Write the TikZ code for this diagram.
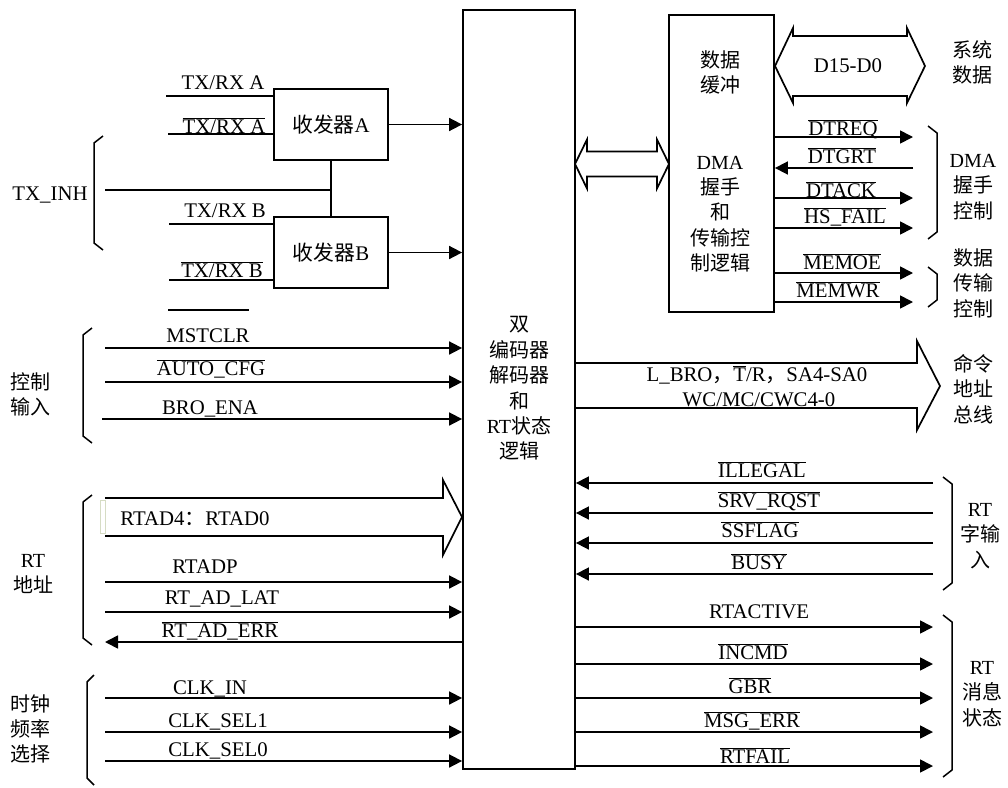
\documentclass[tikz,border=0pt]{standalone}
\usepackage{fontspec}
\setmainfont{Liberation Serif}
\newfontfamily\cjk{Noto Sans CJK SC}
\usetikzlibrary{arrows.meta}
\newcommand\olx[1]{$\overline{\mbox{#1}}$}
\begin{document}
\begin{tikzpicture}[x=1pt,y=-1pt,
  box/.style={draw,line width=1.8pt,inner sep=0pt,font=\fontsize{20.8}{25}\selectfont},
  wire/.style={line width=1.7pt},
  sig/.style={wire,-{Triangle[length=13pt,width=13pt]}},
  lbl/.style={inner sep=0pt,font=\fontsize{20.8}{25}\selectfont,anchor=base},
  zh/.style={inner sep=0pt,font=\fontsize{20}{25.4}\selectfont\cjk,align=center},
  brace/.style={line width=1.5pt,line join=round},
  bus/.style={line width=1.7pt,line join=miter}]
\useasboundingbox (0,0) rectangle (1008,787);

% ---------- blocks ----------
\node[box,minimum width=112pt,minimum height=759pt] (main) at (519,389.5) {};
\node[zh] (maintxt) at (519,388.5) {双\\编码器\\解码器\\和\\{\rmfamily RT}状态\\逻辑};
\node[box,minimum width=105pt,minimum height=297pt] (dma) at (721.5,163.5) {};
\node[zh] (dmatxt1) at (720,72.5) {数据\\缓冲};
\node[zh] (dmatxt2) at (720,214) {{\rmfamily DMA}\\握手\\和\\传输控\\制逻辑};
\node[box,minimum width=114pt,minimum height=71pt] (xa) at (331,124.5) {{\cjk 收发器}A};
\node[box,minimum width=114pt,minimum height=71pt] (xb) at (331,252.5) {{\cjk 收发器}B};

% ---------- transceiver wiring ----------
\coordinate (txaL) at (166,96);
\coordinate (txabL) at (168,134);
\coordinate (txbL) at (169,224);
\coordinate (txbbL) at (169,280);
\coordinate (inhL) at (105,190);
\draw[wire] (txaL) -- (txaL -| xa.west);
\draw[wire] (txabL) -- (txabL -| xa.west);
\draw[wire] (txbL) -- (txbL -| xb.west);
\draw[wire] (txbbL) -- (txbbL -| xb.west);
\draw[wire] (inhL) -- (inhL -| xa.south);
\draw[wire] (xa.south) -- (xb.north);
\draw[sig] (xa.east) -- (xa.east -| main.west);
\draw[sig] (xb.east) -- (xb.east -| main.west);
\node[lbl] (ltxa) at (223,89) {TX/RX A};
\node[lbl] (ltxab) at (224,133) {\olx{TX/RX A}};
\node[lbl] (ltxb) at (225,217) {TX/RX B};
\node[lbl] (ltxbb) at (222,277) {\olx{TX/RX B}};
\node[lbl] (linh) at (50,200) {TX\_INH};
\coordinate (st1) at (168,310);
\coordinate (st2) at (249,310);
\draw[line width=1.4pt] (st1) -- (st2);

% ---------- left inputs ----------
\coordinate (mstL) at (105,348);
\coordinate (autoL) at (105,382);
\coordinate (broL) at (102,419);
\coordinate (rtadpL) at (105,582);
\coordinate (latL) at (105,612);
\coordinate (errL) at (105,642);
\coordinate (clkL) at (105,698);
\coordinate (sel1L) at (105,732);
\coordinate (sel0L) at (105,761);
\draw[sig] (mstL) -- (mstL -| main.west);
\draw[sig] (autoL) -- (autoL -| main.west);
\draw[sig] (broL) -- (broL -| main.west);
\draw[sig] (rtadpL) -- (rtadpL -| main.west);
\draw[sig] (latL) -- (latL -| main.west);
\draw[sig] (errL -| main.west) -- (errL);
\draw[sig] (clkL) -- (clkL -| main.west);
\draw[sig] (sel1L) -- (sel1L -| main.west);
\draw[sig] (sel0L) -- (sel0L -| main.west);
\node[lbl] (lmst) at (208,342) {MSTCLR};
\node[lbl] (lauto) at (211,375) {\olx{AUTO\_CFG}};
\node[lbl] (lbro) at (210,414) {BRO\_ENA};
\node[lbl] (lrtadp) at (205,573) {RTADP};
\node[lbl] (llat) at (222,604) {RT\_AD\_LAT};
\node[lbl] (lerr) at (220,637) {\olx{RT\_AD\_ERR}};
\node[lbl] (lclk) at (210,694) {CLK\_IN};
\node[lbl] (lsel1) at (218,727) {CLK\_SEL1};
\node[lbl] (lsel0) at (218,756) {CLK\_SEL0};

% RTAD bus
\draw[bus] (105,498) -- (443,498) -- (443,480) -- (462,517) -- (443,555) -- (443,536) -- (105,536);
\draw[color={rgb,255:red,214;green,220;blue,196},line width=1pt] (100.5,500) rectangle (105,533);
\node[lbl] (lrtad) at (195,525) {RTAD4{\cjk ：}RTAD0};

% left braces and group labels
\draw[brace] (103,136) -- (94,143) -- (94,243) -- (103,250);
\draw[brace] (92,328) -- (83,335) -- (83,436) -- (92,443);
\draw[brace] (92,495) -- (83,502) -- (83,638) -- (92,645);
\draw[brace] (94,675) -- (87,682) -- (87,778) -- (94,785);
\node[zh] (gctl) at (30,394.5) {控制\\输入};
\node[zh] (gaddr) at (33,574) {{\rmfamily RT}\\地址};
\node[zh] (gclk) at (30,729) {时钟\\频率\\选择};

% ---------- main <-> DMA ----------
\draw[bus] (575,164) -- (587,139.5) -- (587,151.5) -- (657,151.5) -- (657,139.5) -- (669,164)
  -- (657,188.5) -- (657,176.5) -- (587,176.5) -- (587,188.5) -- cycle;
% D15-D0 bus
\draw[bus] (775,66) -- (793,28) -- (793,36) -- (907,36) -- (907,28) -- (925,66)
  -- (907,103) -- (907,96) -- (793,96) -- (793,103) -- cycle;
\node[lbl] (ld) at (848,72) {D15-D0};
\node[zh] (gsys) at (972,62.5) {系统\\数据};

% DMA signals
\coordinate (dtreqR) at (913,137);
\coordinate (dtgrtR) at (913,168);
\coordinate (dtackR) at (913,198);
\coordinate (hsR) at (913,228);
\coordinate (memoeR) at (913,273);
\coordinate (memwrR) at (913,302);
\draw[sig] (dtreqR -| dma.east) -- (dtreqR);
\draw[sig] (dtgrtR) -- (dtgrtR -| dma.east);
\draw[sig] (dtackR -| dma.east) -- (dtackR);
\draw[sig] (hsR -| dma.east) -- (hsR);
\draw[sig] (memoeR -| dma.east) -- (memoeR);
\draw[sig] (memwrR -| dma.east) -- (memwrR);
\node[lbl] (ldtreq) at (843,135) {\olx{DTREQ}};
\node[lbl] (ldtgrt) at (842,163) {\olx{DTGRT}};
\node[lbl] (ldtack) at (841,197) {\olx{DTACK}};
\node[lbl] (lhs) at (845,223) {\olx{HS\_FAIL}};
\node[lbl] (lmemoe) at (842,269) {\olx{MEMOE}};
\node[lbl] (lmemwr) at (838,297) {\olx{MEMWR}};
\draw[brace] (928,126) -- (937,133) -- (937,232) -- (928,239);
\draw[brace] (928,267) -- (937,274) -- (937,300) -- (928,307);
\node[zh] (gdma) at (973,187) {{\rmfamily DMA}\\握手\\控制};
\node[zh] (gdat) at (973,283) {数据\\传输\\控制};

% command bus
\draw[bus] (575,363) -- (917,363) -- (917,341) -- (940,386) -- (917,430) -- (917,408) -- (575,408);
\node[lbl] (lcmd1) at (757,381) {L\_BRO{\cjk ，}\olx{T}/R{\cjk ，}SA4-SA0};
\node[lbl] (lcmd2) at (759,406) {WC/MC/CWC4-0};
\node[zh] (gcmd) at (973,389) {命令\\地址\\总线};

% RT word inputs
\coordinate (illR) at (933,483);
\coordinate (srvR) at (933,513);
\coordinate (ssR) at (933,543);
\coordinate (busyR) at (933,574);
\draw[sig] (illR) -- (illR -| main.east);
\draw[sig] (srvR) -- (srvR -| main.east);
\draw[sig] (ssR) -- (ssR -| main.east);
\draw[sig] (busyR) -- (busyR -| main.east);
\node[lbl] (lill) at (762,477) {\olx{ILLEGAL}};
\node[lbl] (lsrv) at (769,507) {\olx{SRV\_RQST}};
\node[lbl] (lss) at (760,537) {\olx{SSFLAG}};
\node[lbl] (lbusy) at (759,569) {\olx{BUSY}};
\draw[brace] (943,477) -- (952,484) -- (952,583) -- (943,590);
\node[zh] (gword) at (980,536) {{\rmfamily RT}\\字输\\入};

% RT message status
\coordinate (actR) at (933,627);
\coordinate (incR) at (933,664);
\coordinate (gbrR) at (933,698);
\coordinate (msgR) at (933,732);
\coordinate (failR) at (933,766);
\draw[sig] (actR -| main.east) -- (actR);
\draw[sig] (incR -| main.east) -- (incR);
\draw[sig] (gbrR -| main.east) -- (gbrR);
\draw[sig] (msgR -| main.east) -- (msgR);
\draw[sig] (failR -| main.east) -- (failR);
\node[lbl] (lact) at (759,618) {RTACTIVE};
\node[lbl] (linc) at (753,659) {\olx{INCMD}};
\node[lbl] (lgbr) at (750,693) {\olx{GBR}};
\node[lbl] (lmsg) at (752,727) {\olx{MSG\_ERR}};
\node[lbl] (lfail) at (755,763) {\olx{RTFAIL}};
\draw[brace] (943,615) -- (952,622) -- (952,770) -- (943,777);
\node[zh] (gmsg) at (982,694) {{\rmfamily RT}\\消息\\状态};
\end{tikzpicture}
\end{document}
